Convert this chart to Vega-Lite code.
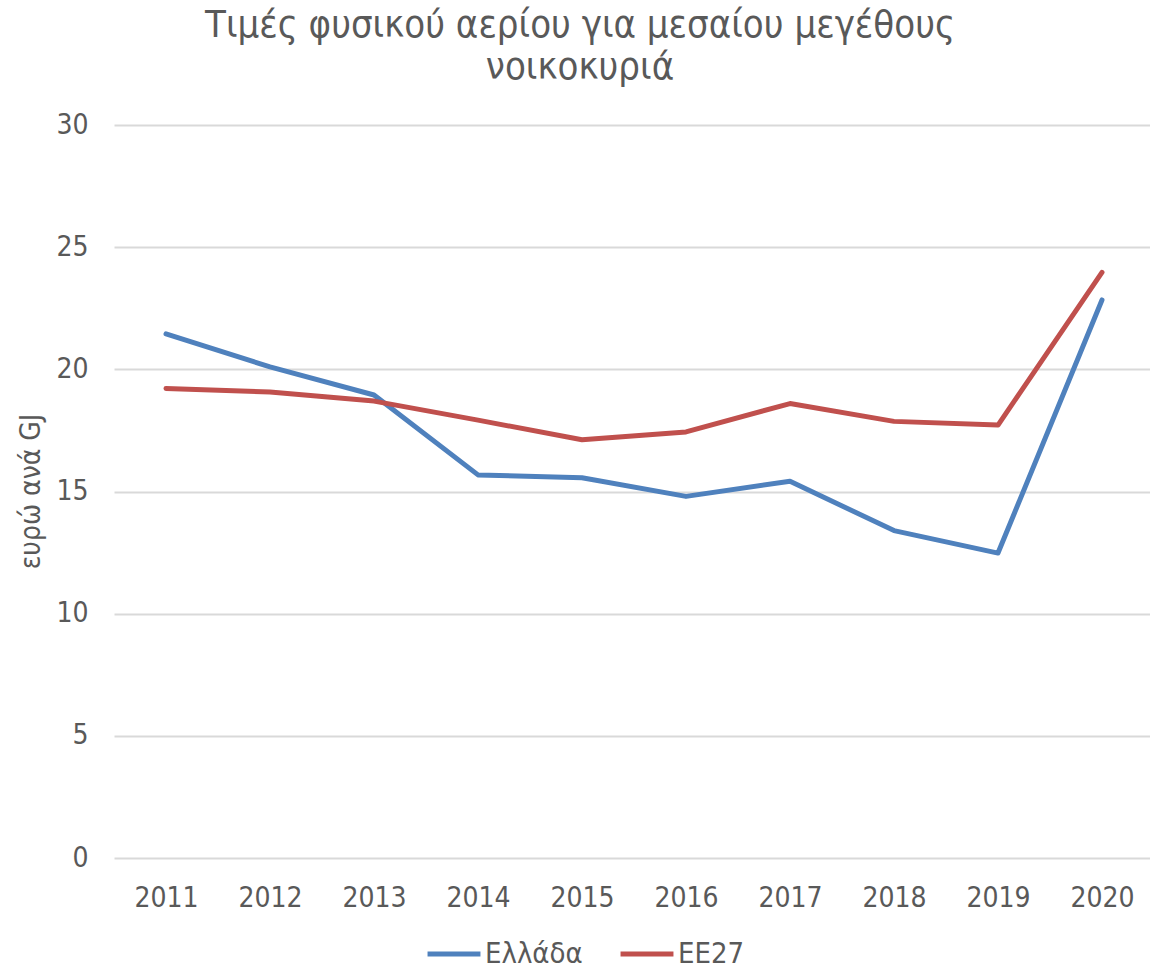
{
  "$schema": "https://vega.github.io/schema/vega-lite/v6.json",
  "autosize": {"type": "none"},
  "padding": {"left": 114, "top": 125, "right": 0, "bottom": 113},
  "width": 1040,
  "height": 733,
  "background": "white",
  "title": {
    "text": ["Τιμές φυσικού αερίου για μεσαίου μεγέθους", "νοικοκυριά"],
    "anchor": "middle",
    "frame": "group",
    "dx": -54,
    "offset": 24,
    "font": "DejaVu Sans Condensed",
    "fontSize": 38,
    "fontWeight": "normal",
    "color": "#595959",
    "lineHeight": 42
  },
  "data": {
    "values": [
      {"year": "2011", "country": "Ελλάδα", "price": 21.45},
      {"year": "2012", "country": "Ελλάδα", "price": 20.1},
      {"year": "2013", "country": "Ελλάδα", "price": 18.95},
      {"year": "2014", "country": "Ελλάδα", "price": 15.68},
      {"year": "2015", "country": "Ελλάδα", "price": 15.56},
      {"year": "2016", "country": "Ελλάδα", "price": 14.8},
      {"year": "2017", "country": "Ελλάδα", "price": 15.42},
      {"year": "2018", "country": "Ελλάδα", "price": 13.4},
      {"year": "2019", "country": "Ελλάδα", "price": 12.48},
      {"year": "2020", "country": "Ελλάδα", "price": 22.84},
      {"year": "2011", "country": "ΕΕ27", "price": 19.22},
      {"year": "2012", "country": "ΕΕ27", "price": 19.07},
      {"year": "2013", "country": "ΕΕ27", "price": 18.7},
      {"year": "2014", "country": "ΕΕ27", "price": 17.92},
      {"year": "2015", "country": "ΕΕ27", "price": 17.12},
      {"year": "2016", "country": "ΕΕ27", "price": 17.44},
      {"year": "2017", "country": "ΕΕ27", "price": 18.6},
      {"year": "2018", "country": "ΕΕ27", "price": 17.87},
      {"year": "2019", "country": "ΕΕ27", "price": 17.72},
      {"year": "2020", "country": "ΕΕ27", "price": 23.97}
    ]
  },
  "mark": {"type": "line", "strokeWidth": 5, "strokeCap": "round", "strokeJoin": "round"},
  "encoding": {
    "x": {
      "field": "year",
      "type": "ordinal",
      "scale": {"type": "point", "padding": 0.5},
      "axis": {
        "title": null,
        "labelAngle": 0,
        "labelFont": "DejaVu Sans Condensed",
        "labelFontSize": 28,
        "labelColor": "#595959",
        "labelPadding": 26,
        "ticks": false,
        "domain": false,
        "grid": false
      }
    },
    "y": {
      "field": "price",
      "type": "quantitative",
      "scale": {"domain": [0, 30]},
      "axis": {
        "title": "ευρώ ανά GJ",
        "titleFont": "DejaVu Sans Condensed",
        "titleFontSize": 28,
        "titleFontWeight": "normal",
        "titleColor": "#595959",
        "titleX": -83,
        "titleY": 366,
        "titleBaseline": "middle",
        "titleAngle": -90,
        "values": [0, 5, 10, 15, 20, 25, 30],
        "labelFont": "DejaVu Sans Condensed",
        "labelFontSize": 28,
        "labelColor": "#595959",
        "labelPadding": 26,
        "ticks": false,
        "domain": false,
        "grid": true,
        "gridColor": "#d9d9d9",
        "gridWidth": 2
      }
    },
    "color": {
      "field": "country",
      "type": "nominal",
      "scale": {"domain": ["Ελλάδα", "ΕΕ27"], "range": ["#4f81bd", "#c0504d"]},
      "legend": {
        "title": null,
        "orient": "none",
        "direction": "horizontal",
        "legendX": 311,
        "legendY": 800,
        "symbolType": "stroke",
        "symbolSize": 2800,
        "symbolStrokeWidth": 5,
        "labelFont": "DejaVu Sans Condensed",
        "labelFontSize": 29,
        "labelColor": "#595959",
        "labelOffset": 2,
        "columnPadding": 27
      }
    }
  },
  "config": {"view": {"stroke": null}}
}
